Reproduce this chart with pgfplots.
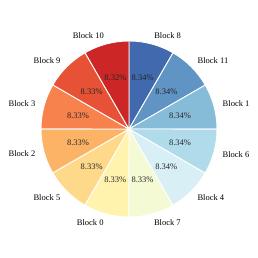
\documentclass[border=0pt]{standalone}
\usepackage{pgfplots}
\pgfplotsset{compat=1.18}
\usepackage{fontspec}
\setmainfont{Liberation Serif}
\definecolor{cA}{RGB}{65,105,174}
\definecolor{cB}{RGB}{95,148,196}
\definecolor{cC}{RGB}{134,188,215}
\definecolor{cD}{RGB}{176,219,234}
\definecolor{cE}{RGB}{216,239,246}
\definecolor{cF}{RGB}{243,250,212}
\definecolor{cG}{RGB}{255,243,173}
\definecolor{cH}{RGB}{254,217,138}
\definecolor{cI}{RGB}{253,179,101}
\definecolor{cJ}{RGB}{247,130,77}
\definecolor{cK}{RGB}{231,82,55}
\definecolor{cL}{RGB}{205,38,39}
% \slice{start angle}{percent}{colour}{label}{anchor}{percent text}
\newcommand{\slice}[6]{%
  \fill[fill=#3, draw=white, line width=0.9pt]
    (axis cs:0,0) -- (axis cs:{cos(#1)},{sin(#1)})
    arc[start angle=#1, delta angle={-3.6*#2}, radius=88pt] -- cycle;
  \node[anchor=#5, inner sep=0pt] at (axis cs:{1.1*cos(#1-1.8*#2)},{1.1*sin(#1-1.8*#2)}) {#4};
  \node[anchor=center, inner sep=0pt, text=black!85] at (axis cs:{0.6*cos(#1-1.8*#2)},{0.6*sin(#1-1.8*#2)}) {#6};
}
\begin{document}
\begin{tikzpicture}
\begin{axis}[
  x=88pt, y=88pt,
  xmin=-1.466, xmax=1.466, ymin=-1.466, ymax=1.466,
  hide axis, clip=false,
  font=\fontsize{8.5}{10}\selectfont,
]
\path (axis cs:-1.466,-1.466) rectangle (axis cs:1.466,1.466);
\slice{90}{8.34}{cA}{Block 8}{west}{8.34\%}
\slice{59.976}{8.34}{cB}{Block 11}{west}{8.34\%}
\slice{29.952}{8.34}{cC}{Block 1}{west}{8.34\%}
\slice{-0.072}{8.34}{cD}{Block 6}{west}{8.34\%}
\slice{-30.096}{8.34}{cE}{Block 4}{west}{8.34\%}
\slice{-60.12}{8.33}{cF}{Block 7}{west}{8.33\%}
\slice{-90.108}{8.33}{cG}{Block 0}{east}{8.33\%}
\slice{-120.096}{8.33}{cH}{Block 5}{east}{8.33\%}
\slice{-150.084}{8.33}{cI}{Block 2}{east}{8.33\%}
\slice{-180.072}{8.33}{cJ}{Block 3}{east}{8.33\%}
\slice{-210.06}{8.33}{cK}{Block 9}{east}{8.33\%}
\slice{-240.048}{8.32}{cL}{Block 10}{east}{8.32\%}
\end{axis}
\end{tikzpicture}
\end{document}
